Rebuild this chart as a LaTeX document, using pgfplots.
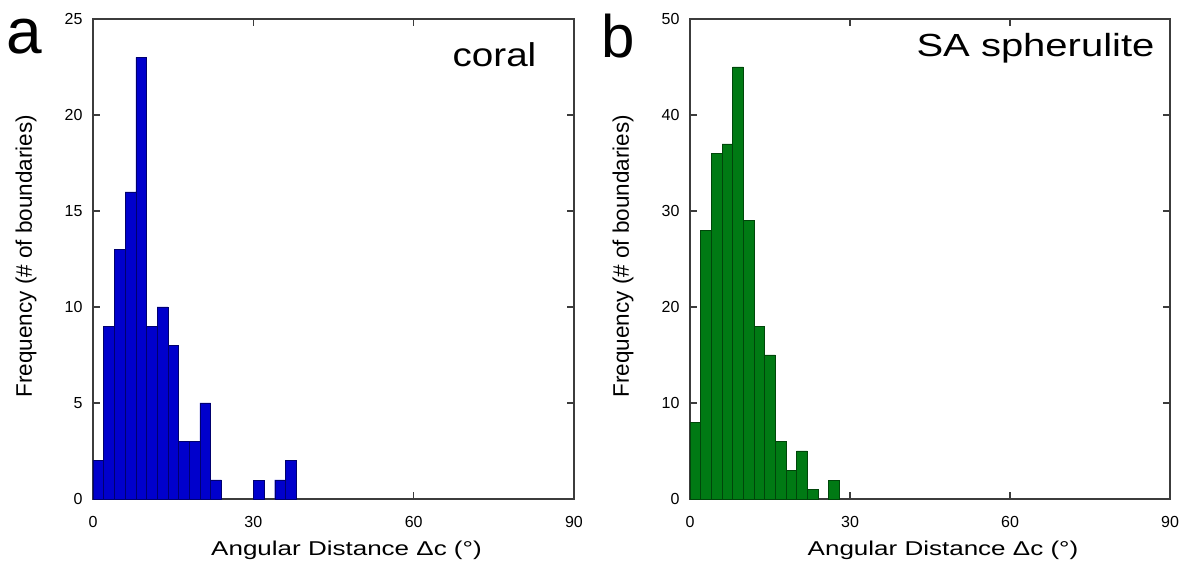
\documentclass[border=0pt]{standalone}
\usepackage{pgfplots}
\pgfplotsset{compat=1.18}
\usepackage{fontspec}
\setmainfont{Liberation Sans}
\newfontfamily\widexl[FakeStretch=1.3]{Liberation Sans}
\newfontfamily\widec[FakeStretch=1.17]{Liberation Sans}
\newfontfamily\wides[FakeStretch=1.25]{Liberation Sans}
\definecolor{barblue}{RGB}{0,0,204}
\definecolor{edgeblue}{RGB}{0,0,110}
\definecolor{bargreen}{RGB}{0,122,20}
\definecolor{edgegreen}{RGB}{0,70,10}
\definecolor{axgray}{RGB}{60,60,60}
\pgfplotsset{
  myaxis/.style={
    scale only axis, width=481pt, height=480pt,
    xmin=0, xmax=90, ymin=0,
    xtick={0,30,60,90},
    tick align=inside, major tick length=7pt,
    axis line style={axgray, line width=1.3pt},
    every tick/.style={axgray, line width=1.2pt},
    /pgf/number format/assume math mode=true,
    tick label style={font=\fontsize{16}{19}\selectfont},
    xticklabel style={anchor=center, yshift=-23pt},
    yticklabel style={anchor=east, xshift=-7pt},
    every axis x label/.style={at={(axis description cs:0.5,0)}, xshift=13pt, yshift=-51pt, anchor=center, font=\widexl\fontsize{20}{25}\selectfont},
    every axis y label/.style={at={(axis description cs:0,0.506)}, xshift=-67pt, rotate=90, anchor=center, font=\fontsize{22.5}{25}\selectfont},
    xlabel={Angular Distance {\char"0394}c (°)},
    ylabel={Frequency (\# of boundaries)},
    clip=false,
  }
}
\begin{document}
\begin{tikzpicture}[x=1pt,y=1pt]
\path[use as bounding box] (-93,-70) rectangle (1092,499);
\begin{axis}[myaxis, at={(0,0)}, anchor=origin, ymax=25, ytick={0,5,...,25}]
\addplot[ybar interval, fill=barblue, draw=edgeblue, line width=0.4pt] coordinates {
(0,2)(2,9)(4,13)(6,16)(8,23)(10,9)(12,10)(14,8)(16,3)(18,3)(20,5)(22,1)(24,0)};
\addplot[ybar interval, fill=barblue, draw=edgeblue, line width=0.4pt] coordinates {
(30,1)(32,0)};
\addplot[ybar interval, fill=barblue, draw=edgeblue, line width=0.4pt] coordinates {
(34,1)(36,2)(38,0)};
\node[anchor=east, font=\widec\fontsize{33}{40}\selectfont] at (rel axis cs:0.929,0.925) {coral};
\node[anchor=center, font=\fontsize{64}{70}\selectfont] at (rel axis cs:-0.143,0.963) {a};
\end{axis}
\begin{axis}[myaxis, at={(597pt,0)}, anchor=origin, width=480pt, ymax=50, ytick={0,10,...,50}]
\addplot[ybar interval, fill=bargreen, draw=edgegreen, line width=0.4pt] coordinates {
(0,8)(2,28)(4,36)(6,37)(8,45)(10,29)(12,18)(14,15)(16,6)(18,3)(20,5)(22,1)(24,0)};
\addplot[ybar interval, fill=bargreen, draw=edgegreen, line width=0.4pt] coordinates {
(26,2)(28,0)};
\node[anchor=east, font=\wides\fontsize{32}{40}\selectfont] at (rel axis cs:0.975,0.9385) {SA spherulite};
\node[anchor=center, font=\fontsize{60}{70}\selectfont] at (rel axis cs:-0.15,0.965) {b};
\end{axis}
\end{tikzpicture}
\end{document}
